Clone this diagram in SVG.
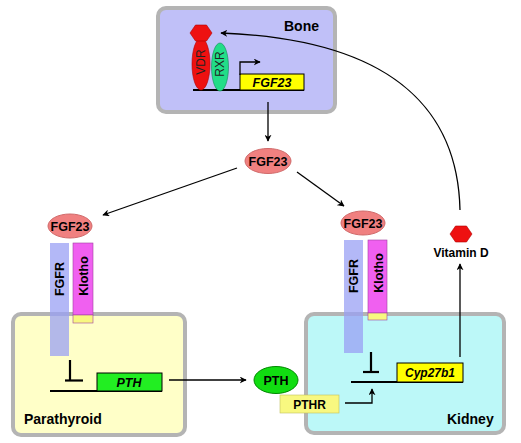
<svg xmlns="http://www.w3.org/2000/svg" width="521" height="443" viewBox="0 0 521 443">
<defs>
<marker id="ah" viewBox="0 0 10 10" refX="9" refY="5" markerWidth="7" markerHeight="7" orient="auto" markerUnits="userSpaceOnUse">
<path d="M0,0 L10,5 L0,10 L3,5 z" fill="#000"/>
</marker>
<style>
.box{stroke:#b4b4b4;stroke-width:4}
.t{font-family:"Liberation Sans",Arial,sans-serif;font-weight:bold;fill:#000}
.it{font-family:"Liberation Sans",Arial,sans-serif;font-weight:bold;font-style:italic;fill:#000}
.fgf{fill:#f08080;stroke:#d06a6a;stroke-width:1}
.ln{stroke:#000;stroke-width:1.3;fill:none}
.dna{stroke:#000;stroke-width:2.2;fill:none}
.fgfr{fill:#9aa0f4;fill-opacity:0.75}
.klotho{fill:#f060f0;stroke:#a040a0;stroke-width:0.6}
.tm{fill:#f8f880;stroke:#a040a0;stroke-width:0.6}
.hex{fill:#ee1111;stroke:#b00000;stroke-width:0.6}
</style>
</defs>

<g id="bone">
<rect class="box" x="158" y="8" width="177" height="104" rx="8" fill="#c0c0f8"/>
<text class="t" x="284" y="31" font-size="14">Bone</text>
<line class="dna" x1="193" y1="90" x2="304" y2="90"/>
<ellipse cx="201" cy="64" rx="9" ry="26" fill="#ee1111" stroke="#b00000" stroke-width="0.6"/>
<polygon class="hex" points="190,33 195.5,25 206.5,25 212,33 206.5,41 195.5,41"/>
<ellipse cx="220" cy="67" rx="8.5" ry="24" fill="#22dd88" stroke="#118855" stroke-width="0.6"/>
<text font-family="'Liberation Sans',Arial,sans-serif" font-size="12" fill="#222" transform="translate(205,62) rotate(-90)" text-anchor="middle">VDR</text>
<text font-family="'Liberation Sans',Arial,sans-serif" font-size="12" fill="#222" transform="translate(224,64) rotate(-90)" text-anchor="middle">RXR</text>
<rect x="240" y="74" width="64" height="16" fill="#ffff00" stroke="#000" stroke-width="1"/>
<text class="it" x="272" y="86.5" font-size="12.5" text-anchor="middle">FGF23</text>
<polyline class="ln" points="240,75 240,62 260,62" marker-end="url(#ah)"/>
</g>

<g id="fgf23-circ">
<ellipse class="fgf" cx="268" cy="161" rx="23" ry="12.5"/>
<text class="t" x="268" y="165.5" font-size="12.5" text-anchor="middle">FGF23</text>
</g>

<g id="parathyroid">
<rect class="box" x="13" y="314" width="172" height="121" rx="8" fill="#ffffc8"/>
<text class="t" x="24" y="424" font-size="14">Parathyroid</text>
<line class="dna" x1="50" y1="391" x2="162" y2="391"/>
<rect x="97" y="373" width="65" height="18" fill="#22ee22" stroke="#000" stroke-width="1"/>
<text class="it" x="129" y="386.5" font-size="12.5" text-anchor="middle">PTH</text>
<line class="dna" x1="70" y1="360" x2="70" y2="380"/>
<line class="dna" x1="65" y1="380.5" x2="83" y2="380.5"/>
</g>

<g id="pt-receptor">
<ellipse class="fgf" cx="70" cy="226" rx="22" ry="12"/>
<text class="t" x="70" y="230.5" font-size="12.5" text-anchor="middle">FGF23</text>
<rect class="fgfr" x="50" y="243" width="19" height="113"/>
<rect class="klotho" x="73" y="243" width="20" height="72"/>
<rect class="tm" x="73" y="315" width="20" height="8"/>
<text class="t" transform="translate(64,279) rotate(-90)" font-size="12.5" text-anchor="middle">FGFR</text>
<text class="t" transform="translate(87.5,276) rotate(-90)" font-size="12.5" text-anchor="middle">Klotho</text>
</g>

<g id="kidney">
<rect class="box" x="306" y="314" width="198" height="119" rx="8" fill="#bcf8f8"/>
<text class="t" x="447" y="424" font-size="14">Kidney</text>
<line class="dna" x1="351" y1="382" x2="463" y2="382"/>
<rect x="397" y="363" width="66" height="19" fill="#ffff00" stroke="#000" stroke-width="1"/>
<text class="it" x="430" y="377" font-size="12" text-anchor="middle">Cyp27b1</text>
<line class="dna" x1="371" y1="352" x2="371" y2="372"/>
<line class="dna" x1="363" y1="372" x2="379" y2="372"/>
</g>

<g id="k-receptor">
<ellipse class="fgf" cx="363" cy="223" rx="22" ry="12"/>
<text class="t" x="363" y="227.5" font-size="12.5" text-anchor="middle">FGF23</text>
<rect class="fgfr" x="344" y="240" width="19" height="113"/>
<rect class="klotho" x="368" y="240" width="19" height="73"/>
<rect class="tm" x="368" y="313" width="19" height="7"/>
<text class="t" transform="translate(358,276) rotate(-90)" font-size="12.5" text-anchor="middle">FGFR</text>
<text class="t" transform="translate(382.5,273) rotate(-90)" font-size="12.5" text-anchor="middle">Klotho</text>
</g>

<g id="pth">
<ellipse cx="276" cy="380" rx="22" ry="13.5" fill="#11dd11" stroke="#008800" stroke-width="1"/>
<text class="t" x="276" y="384.5" font-size="12.5" text-anchor="middle">PTH</text>
</g>

<g id="pthr">
<rect x="280" y="395" width="59" height="18" fill="#f8f880" stroke="#c0c060" stroke-width="0.6"/>
<text class="t" x="309.5" y="408.5" font-size="12" text-anchor="middle">PTHR</text>
</g>

<g id="vitamin-d">
<polygon class="hex" points="450,234 455.5,226 466.5,226 472,234 466.5,242 455.5,242"/>
<text class="t" x="461" y="257" font-size="12" text-anchor="middle">Vitamin D</text>
</g>

<g id="connectors">
<line class="ln" x1="268" y1="102" x2="268" y2="141" marker-end="url(#ah)"/>
<line class="ln" x1="237" y1="168" x2="103" y2="215" marker-end="url(#ah)"/>
<line class="ln" x1="297" y1="172" x2="344" y2="206" marker-end="url(#ah)"/>
<line class="ln" x1="169" y1="380" x2="246" y2="380" stroke="#444" marker-end="url(#ah)"/>
<polyline class="ln" points="345,403 372,403 372,389" marker-end="url(#ah)"/>
<line class="ln" x1="460" y1="357" x2="460" y2="264" marker-end="url(#ah)"/>
<path class="ln" d="M460,210 C458,120 405,40 221,33" marker-end="url(#ah)"/>
</g>
</svg>
